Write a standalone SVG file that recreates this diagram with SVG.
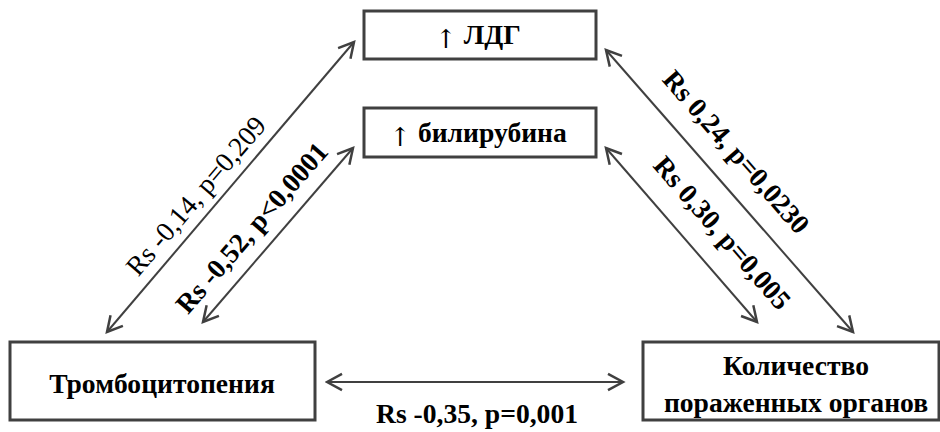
<svg xmlns="http://www.w3.org/2000/svg" width="940" height="432" viewBox="0 0 940 432">
  <style>
    .box { fill: #ffffff; stroke: #404040; stroke-width: 3; }
    .lbl { font-family: "Liberation Serif", "Times New Roman", serif; font-size: 27.6px; fill: #000000; text-anchor: middle; }
    .b { font-weight: bold; }
    .up { font-family: "DejaVu Serif", serif; font-weight: normal; font-size: 26px; fill: #000000; baseline-shift: -4px; }
    .link { stroke: #404040; stroke-width: 2; fill: none; marker-start: url(#tip); marker-end: url(#tip); }
  </style>
  <defs>
    <marker id="tip" markerUnits="userSpaceOnUse" markerWidth="20" markerHeight="20" viewBox="-14 -8 16 16" refX="0" refY="0" orient="auto-start-reverse">
      <path d="M-12,-6.5 L0,0 L-12,6.5" fill="none" stroke="#404040" stroke-width="2"/>
    </marker>
  </defs>

  <rect width="940" height="432" fill="#ffffff"/>

  <!-- nodes -->
  <g id="ldg">
    <rect class="box" x="364" y="11" width="232" height="48"/>
    <text class="lbl b" x="478" y="44"><tspan class="up">↑</tspan> ЛДГ</text>
  </g>
  <g id="bilirubin">
    <rect class="box" x="364" y="108" width="232" height="49"/>
    <text class="lbl b" x="478" y="142"><tspan class="up">↑</tspan> билирубина</text>
  </g>
  <g id="thrombocytopenia">
    <rect class="box" x="10" y="342" width="305" height="78"/>
    <text class="lbl b" x="162" y="393">Тромбоцитопения</text>
  </g>
  <g id="organs">
    <rect class="box" x="643" y="342" width="296" height="78"/>
    <text class="lbl b" x="796" y="375">Количество</text>
    <text class="lbl b" x="796" y="412">пораженных органов</text>
  </g>

  <!-- connectors -->
  <g id="connectors">
    <line class="link" x1="107" y1="332" x2="354" y2="42"/>
    <line class="link" x1="203" y1="322" x2="353" y2="148"/>
    <line class="link" x1="606" y1="50" x2="853" y2="332"/>
    <line class="link" x1="606" y1="148" x2="757" y2="322"/>
    <line class="link" x1="327" y1="382" x2="623" y2="382"/>

    <text class="lbl" transform="translate(196,196) rotate(-49.5)" y="9">Rs -0,14, p=0,209</text>
    <text class="lbl b" transform="translate(252,228) rotate(-49)" y="9">Rs -0,52, p&lt;0,0001</text>
    <text class="lbl b" transform="translate(736,152) rotate(48.8)" y="9">Rs 0,24, p=0,0230</text>
    <text class="lbl b" transform="translate(722,233) rotate(49)" y="9">Rs 0,30, p=0,005</text>
    <text class="lbl b" x="477" y="423">Rs -0,35, p=0,001</text>
  </g>
</svg>
